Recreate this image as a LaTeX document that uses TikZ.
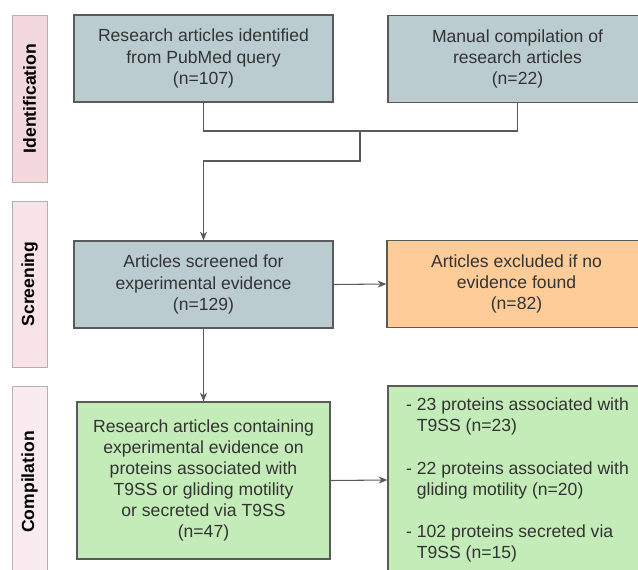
\documentclass[tikz,border=0pt]{standalone}
\usepackage{fontspec}
\setmainfont{Liberation Sans}
\usetikzlibrary{arrows.meta}

\definecolor{boxgray}{RGB}{186,204,208}
\definecolor{boxorange}{RGB}{253,204,153}
\definecolor{boxgreen}{RGB}{196,236,184}
\definecolor{stageA}{RGB}{243,216,222}
\definecolor{stageB}{RGB}{248,227,233}
\definecolor{stageC}{RGB}{250,235,240}
\definecolor{txtgray}{RGB}{51,51,51}
\definecolor{linegray}{RGB}{90,90,90}

\tikzset{
  stagebox/.style={draw=gray!60, fill=#1, rotate=90, font=\bfseries, text=black,
    minimum height=0.7cm, inner sep=0pt},
  flowbox/.style={draw=linegray, line width=0.7pt, fill=#1, align=center, text=txtgray,
    minimum width=5.18cm, minimum height=1.74cm, inner sep=0pt},
  link/.style={draw=linegray, line width=0.6pt}
}

\begin{document}
\begin{tikzpicture}[x=0.02cm, y=-0.02cm]
\useasboundingbox (0,0) rectangle (638,569);
\clip (0,0) rectangle (638,569);

%Etapas
\node[stagebox=stageA, minimum width=3.34cm] (ident) at (29.5,98.5) {Identification};
\node[stagebox=stageB, minimum width=3.32cm] (screen) at (29.5,284) {Screening};
\node[stagebox=stageC, minimum width=3.84cm] (compil) at (29.5,482) {Compilation};

%Identificacion
\node[flowbox=boxgray] (pubmed) at (203.5,58.5) {Research articles identified\\from PubMed query\\(n=107)};
\node[flowbox=boxgray] (manual) at (517.5,59) {Manual compilation of\\research articles\\(n=22)};

%Cribado
\node[flowbox=boxgray] (screened) at (203.5,284.5) {Articles screened for\\experimental evidence\\(n=129)};
\node[flowbox=boxorange] (excluded) at (516.5,284) {Articles excluded if no\\evidence found\\(n=82)};

%Compilacion
\node[flowbox=boxgreen, minimum width=5.06cm, minimum height=3.14cm] (articles) at (203.5,480.5)
  {Research articles containing\\experimental evidence on\\proteins associated with\\T9SS or gliding motility\\or secreted via T9SS\\(n=47)};
\node[flowbox=boxgreen, minimum height=3.76cm, align=left] (proteins) at (517.5,480)
  {- 23 proteins associated with\\\hphantom{- }T9SS (n=23)\\[12pt]- 22 proteins associated with\\\hphantom{- }gliding motility (n=20)\\[12pt]- 102 proteins secreted via\\\hphantom{- }T9SS (n=15)};

%Conectores
\coordinate (join) at (360,131);
\coordinate (turn) at (203.5,161);
\draw[link] (pubmed.south) |- (join) -| (manual.south);
\draw[link, -{Stealth[length=5pt,width=4pt]}] (join) |- (turn) -- (screened.north);
\draw[link, -{Stealth[length=5pt,width=4pt]}] (screened.east) -- (excluded.west);
\draw[link, -{Stealth[length=5pt,width=4pt]}] (screened.south) -- (articles.north);
\draw[link, -{Stealth[length=5pt,width=4pt]}] (articles.east) -- (proteins.west);
\end{tikzpicture}
\end{document}
